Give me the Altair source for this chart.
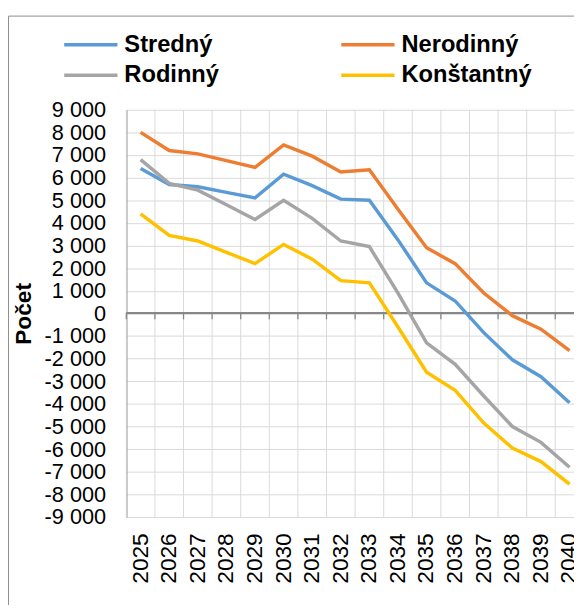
import altair as alt
import pandas as pd

years = [str(y) for y in range(2025, 2041)]
series_names = ["Stredný", "Nerodinný", "Rodinný", "Konštantný"]
series_colors = ["#5B9BD5", "#ED7D31", "#A5A5A5", "#FFC000"]

stredny = [6400, 5700, 5600, 5350, 5100, 6150, 5650, 5050, 5000, 3250, 1350, 550, -850, -2050, -2800, -3950]
nerodinny = [8000, 7200, 7050, 6750, 6450, 7450, 6950, 6250, 6350, 4600, 2900, 2200, 900, -100, -700, -1650]
rodinny = [6800, 5750, 5450, 4800, 4150, 5000, 4200, 3200, 2950, 900, -1300, -2250, -3650, -5000, -5700, -6800]
konstantny = [4400, 3450, 3200, 2700, 2200, 3050, 2400, 1450, 1350, -600, -2600, -3400, -4850, -5950, -6550, -7550]

y_ticks = list(range(-9000, 9001, 1000))

rows = []
for name, vals in zip(series_names, [stredny, nerodinny, rodinny, konstantny]):
    for yr, v in zip(years, vals):
        rows.append({"year": yr, "value": v, "series": name})
df = pd.DataFrame(rows)
years_df = pd.DataFrame({"year": years})

FONT = "Liberation Sans"
xscale = alt.Scale(type="band", domain=years, range=[0, 464], paddingInner=0, paddingOuter=0)
yscale = alt.Scale(domain=[-9000, 9000], nice=False)

xaxis = alt.Axis(
    title=None, labelAngle=-90, labelFontSize=23, labelFont=FONT,
    labelColor="#000000", labelPadding=16, domain=False, ticks=False, grid=False,
    labelOverlap=False,
)
yaxis = alt.Axis(
    title="Počet", titleFontSize=23, titleFont=FONT, titleFontWeight="bold",
    titleColor="#000000", titleX=-104, titleY=206.5, titleAngle=-90,
    titleAlign="center", titleBaseline="middle",
    values=y_ticks, tickCount=len(y_ticks), labelOverlap=False, labelSeparation=0,
    labelExpr="(datum.value < 0 ? '-' : '') + replace(format(abs(datum.value), ','), ',', ' ')",
    labelFontSize=22, labelFont=FONT, labelColor="#000000", labelPadding=21,
    ticks=False, domain=True, domainColor="#8c8c8c", domainWidth=1.3,
    grid=True, gridColor="#d9d9d9", gridWidth=1,
)

grid_v = alt.Chart(years_df).mark_rule(color="#d9d9d9", strokeWidth=1).encode(
    x=alt.X("year:O", bandPosition=0, scale=xscale, axis=xaxis)
)

zero_line = alt.Chart(years_df).mark_rule(color="#868686", strokeWidth=1.3).encode(
    y=alt.datum(0)
)

zero_ticks = alt.Chart(years_df).mark_rule(color="#868686", strokeWidth=1.3, y2Offset=6).encode(
    x=alt.X("year:O", bandPosition=0, scale=xscale, axis=xaxis),
    y=alt.datum(0),
    y2=alt.datum(0),
)

lines = alt.Chart(df).mark_line(strokeWidth=3.5).encode(
    x=alt.X("year:O", bandPosition=0.5, scale=xscale, axis=xaxis),
    y=alt.Y("value:Q", scale=yscale, axis=yaxis),
    color=alt.Color(
        "series:N",
        scale=alt.Scale(domain=series_names, range=series_colors),
        legend=alt.Legend(
            title=None, orient="none", direction="horizontal", legendX=-65, legendY=-78, columns=2,
            symbolType="stroke", symbolSize=2916, symbolStrokeWidth=3.5, clipHeight=24,
            labelFontSize=24, labelFont=FONT, labelFontWeight="bold", labelColor="#000000",
            labelOffset=5, columnPadding=122, rowPadding=7,
        ),
    ),
    order=alt.Order("year:O"),
)

frame = alt.Chart(pd.DataFrame({"a": [0]})).mark_rect(
    fillOpacity=0, stroke="#8c8c8c", strokeWidth=1
).encode(
    x=alt.value(-119.5), x2=alt.value(800), y=alt.value(-95), y2=alt.value(800)
)

chart = alt.layer(frame, grid_v, zero_line, zero_ticks, lines).properties(
    width=454,
    height=413,
    padding={"left": 120, "top": 99, "right": 0, "bottom": 85},
    autosize=alt.AutoSizeParams(type="none"),
).configure_view(strokeWidth=0).configure_axis(labelOverlap=False)

chart.save("out.html", embed_options={"renderer": "svg", "actions": False})
